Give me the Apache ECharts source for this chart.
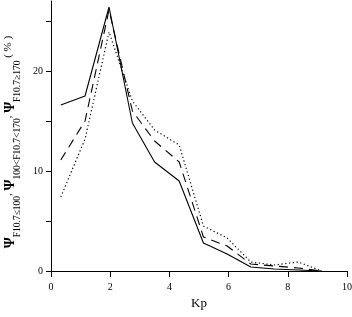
<!DOCTYPE html>
<html>
<head>
<meta charset="utf-8">
<script src="https://cdn.jsdelivr.net/npm/echarts@6/dist/echarts.min.js"></script>
<style>
html,body{margin:0;padding:0;background:#fff;}
#main{width:352px;height:317px;}
</style>
</head>
<body>
<div id="main"></div>
<script>
// Kp bins
var kp = [0.33, 1.15, 1.96, 2.75, 3.5, 4.33, 5.15, 5.95, 6.75, 7.55, 8.35, 9.15];
// F10.7 <= 100 (solid)
var lowF = [16.6, 17.5, 26.4, 14.8, 10.9, 9.0, 2.8, 1.7, 0.4, 0.2, 0.1, 0];
// 100 < F10.7 < 170 (dashed)
var midF = [11.1, 15.0, 26.1, 16.0, 13.0, 10.9, 3.4, 2.5, 0.7, 0.5, 0.3, 0];
// F10.7 >= 170 (dotted)
var highF = [7.4, 13.2, 23.9, 17.0, 14.1, 12.6, 4.5, 3.3, 0.9, 0.6, 0.9, 0];
var xTicks = [0, 2, 4, 6, 8, 10];
var yLabels = [0, 10, 20];

function pairs(ys){
    var out = [];
    for(var i=0;i<kp.length;i++){ out.push([kp[i], ys[i]]); }
    return out;
}

var serif = 'Liberation Serif';
var myChart = echarts.init(document.getElementById('main'));
var option = {
    backgroundColor: '#fff',
    animation: false,
    grid: { left: 51, right: 5, top: 1, bottom: 46, outerBoundsMode: 'none', containLabel: false },
    xAxis: {
        type: 'value',
        min: 0, max: 10, interval: 2,
        name: 'Kp',
        nameLocation: 'middle',
        nameGap: 23,
        nameTextStyle: { fontFamily: serif, fontSize: 13, color: '#000' },
        axisLine: { lineStyle: { color: '#000', width: 1 } },
        axisTick: { show: true, inside: false, length: 6, lineStyle: { color: '#000' } },
        axisLabel: { fontFamily: serif, fontSize: 10, color: '#000', margin: 11,
            formatter: function(v){ return xTicks.indexOf(v) >= 0 ? v : ''; } },
        splitLine: { show: false }
    },
    yAxis: {
        type: 'value',
        min: 0, max: 27, interval: 5,
        name: '{p|Ψ}{s|F10.7≤100}{c|, }{p|Ψ}{s|100<F10.7<170}{c|, }{p|Ψ}{s|F10.7≥170}{c| ( % )}',
        nameLocation: 'middle',
        nameGap: 27,
        nameRotate: 90,
        nameTextStyle: {
            fontFamily: serif, color: '#000', padding: [0, 12, 0, 0],
            rich: {
                p: { fontFamily: serif, fontSize: 14, fontWeight: 'bold', lineHeight: 19, verticalAlign: 'top', color: '#000' },
                s: { fontFamily: serif, fontSize: 9.5, lineHeight: 19, verticalAlign: 'bottom', color: '#000' },
                c: { fontFamily: serif, fontSize: 11, lineHeight: 19, verticalAlign: 'top', color: '#000' }
            }
        },
        axisLine: { show: true, lineStyle: { color: '#000', width: 1 } },
        axisTick: { show: true, inside: false, length: 5, lineStyle: { color: '#000' } },
        axisLabel: { fontFamily: serif, fontSize: 10, color: '#000', margin: 8, showMaxLabel: false,
            formatter: function(v){ return yLabels.indexOf(v) >= 0 ? v : ''; } },
        splitLine: { show: false }
    },
    series: [
        {
            name: 'F10.7<=100', type: 'line', data: pairs(lowF),
            symbol: 'none', lineStyle: { color: '#000', width: 1.1, type: 'solid' }
        },
        {
            name: '100<F10.7<170', type: 'line', data: pairs(midF),
            symbol: 'none', lineStyle: { color: '#000', width: 1.1, type: [9, 6] }
        },
        {
            name: 'F10.7>=170', type: 'line', data: pairs(highF),
            symbol: 'none', lineStyle: { color: '#000', width: 1.2, type: [1.2, 2.6] }
        }
    ]
};
myChart.setOption(option);
</script>
</body>
</html>
